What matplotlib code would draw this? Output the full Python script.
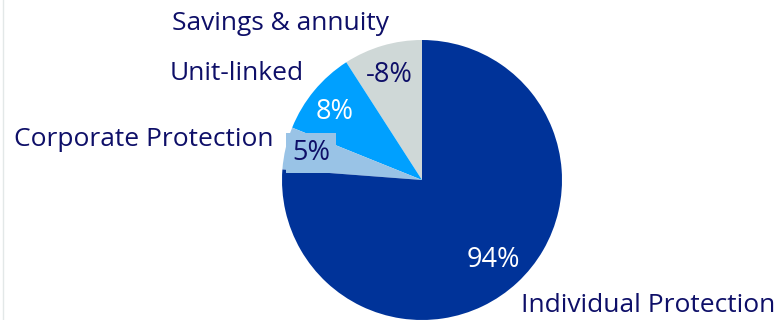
import matplotlib
matplotlib.use("Agg")
import matplotlib.pyplot as plt
from matplotlib.lines import Line2D

# Data (counter-clockwise from 12 o'clock)
categories = ["Savings & annuity", "Unit-linked", "Corporate Protection", "Individual Protection"]
pct_labels = ["-8%", "8%", "5%", "94%"]
# slice shares
shares = [9.1, 9.8, 4.9, 76.2]

colors = ["#cfd8d7", "#00a0ff", "#99c3e6", "#003399"]
label_color = "#0e0f68"
pct_colors = [label_color, "white", label_color, "white"]

plt.rcParams['font.family'] = ['Open Sans', 'DejaVu Sans']

W, H = 780, 320
fig = plt.figure(figsize=(W / 100, H / 100), dpi=100)
ax = fig.add_axes([0, 0, 1, 1])

cx, cy, r = 422, 140, 140
wedges, _ = ax.pie(shares, colors=colors, startangle=90, counterclock=True,
                   center=(cx, cy), radius=r, frame=True,
                   wedgeprops=dict(linewidth=0))
ax.set_xlim(0, W)
ax.set_ylim(0, H)
ax.set_aspect('equal')
ax.axis('off')

fs = 19
pfs = 19.5
# category labels
ax.text(281, 296, categories[0], ha='center', va='center', fontsize=fs, color=label_color)
ax.text(237, 247, categories[1], ha='center', va='center', fontsize=fs, color=label_color)
ax.text(144, 180, categories[2], ha='center', va='center', fontsize=fs, color=label_color)
ax.text(648, 15, categories[3], ha='center', va='center', fontsize=fs, color=label_color)

# percentage labels
ax.text(389, 245, pct_labels[0], ha='center', va='center', fontsize=pfs, color=pct_colors[0])
ax.text(335, 208, pct_labels[1], ha='center', va='center', fontsize=pfs, color=pct_colors[1])
ax.text(311, 167, pct_labels[2], ha='center', va='center', fontsize=pfs, color=pct_colors[2],
        bbox=dict(boxstyle='square,pad=0.22', facecolor=colors[2], edgecolor='none'))
ax.text(493, 60, pct_labels[3], ha='center', va='center', fontsize=pfs, color=pct_colors[3])

# faint left frame line
fig.add_artist(Line2D([2.5 / W, 2.5 / W], [0, 1], transform=fig.transFigure,
                      color='#e3e8e8', linewidth=1))

fig.savefig("out.png", dpi=100)
